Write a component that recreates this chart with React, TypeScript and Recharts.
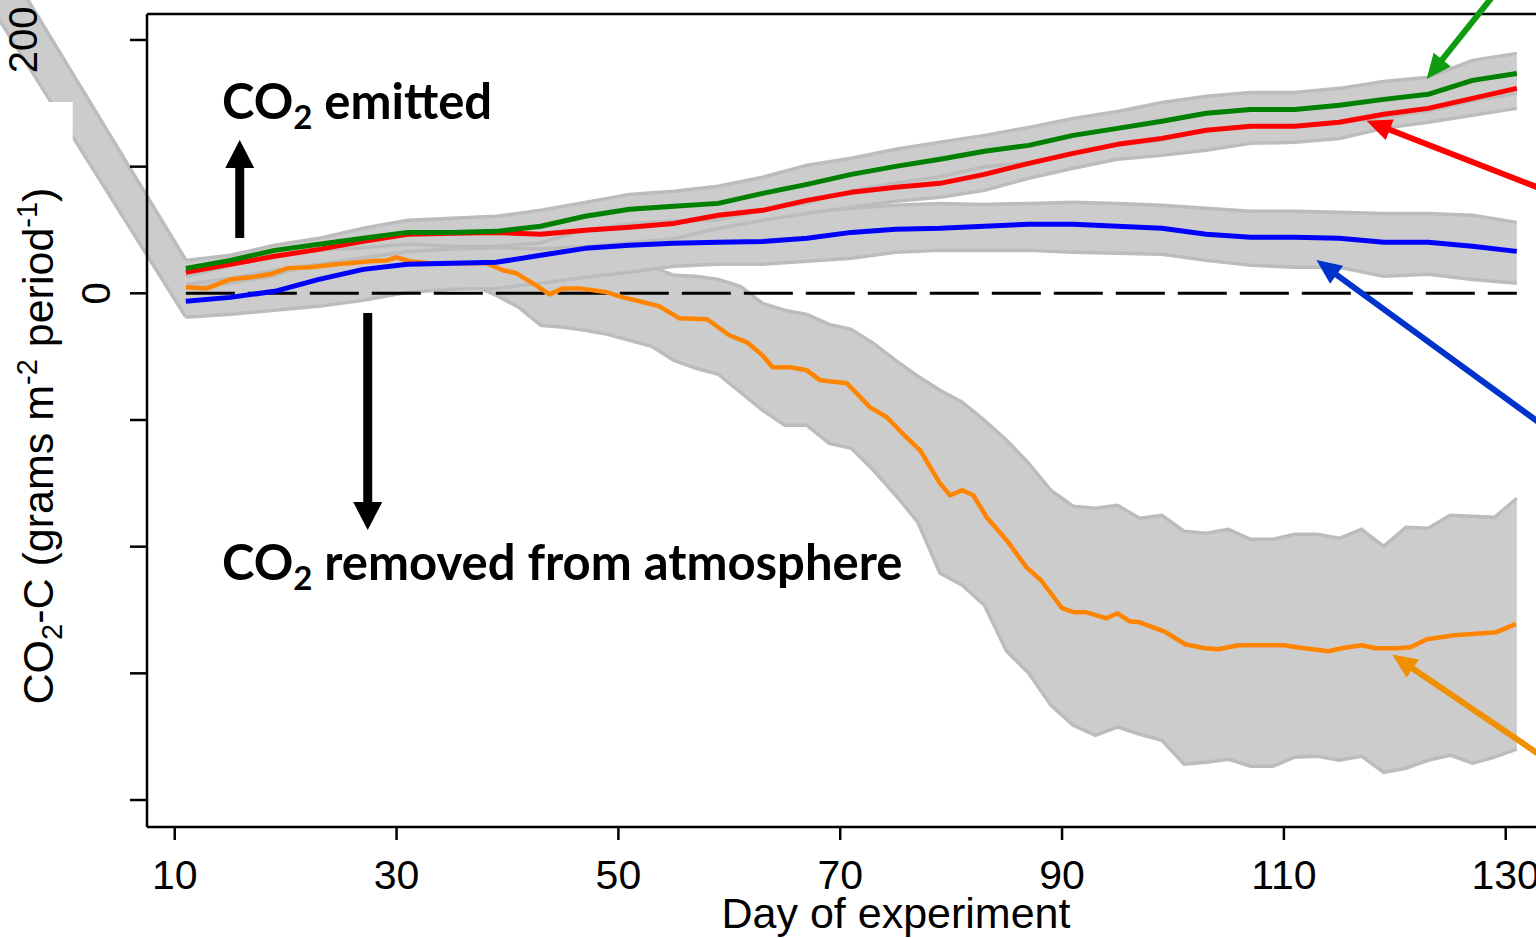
import React from 'react';
import { ComposedChart, Line, Area, XAxis, YAxis, ReferenceLine, ReferenceArea } from 'recharts';

// ---------- data ----------
const daysA = [11, 15, 19, 23, 27, 31, 35, 39, 43, 47, 51, 55, 59, 63, 67, 71, 75, 79, 83, 87, 91, 95, 99, 103, 107, 111, 115, 119, 123, 127, 131];

const green = [19.7, 26.0, 33.9, 38.7, 43.4, 48.1, 48.1, 48.9, 52.9, 60.8, 66.3, 68.7, 71.0, 78.9, 86.0, 93.9, 100.2, 105.8, 112.1, 116.8, 124.7, 130.2, 135.8, 142.1, 145.2, 145.2, 148.4, 153.1, 157.1, 168.1, 173.6];
const greenHi = [26.0, 30.0, 37.9, 43.4, 51.3, 57.6, 59.2, 60.8, 65.5, 71.8, 78.1, 80.5, 84.5, 91.6, 101.1, 106.6, 113.7, 119.2, 124.7, 131.0, 138.1, 143.6, 150.7, 155.5, 158.6, 158.6, 161.8, 167.3, 170.5, 183.9, 189.4];
const greenLo = [13, 22, 30, 34, 36, 39, 37, 37, 40, 50, 55, 57, 58, 66, 71, 81, 87, 92, 100, 103, 111, 117, 121, 129, 132, 132, 135, 139, 144, 152, 158];

const red = [16.6, 22.9, 29.2, 34.7, 41.0, 46.6, 47.4, 48.1, 46.6, 49.7, 52.1, 55.2, 61.6, 65.5, 73.4, 79.7, 83.7, 86.8, 93.9, 102.6, 110.5, 117.6, 122.3, 128.7, 131.8, 131.8, 135.0, 141.3, 146.0, 153.9, 161.8];
const redHi = [24, 29, 36, 42, 49, 55, 57, 58, 57, 61, 64, 68, 74, 78, 87, 93, 97, 100, 108, 116, 124, 131, 136, 143, 146, 146, 149, 155, 160, 168, 176];
const redLo = [7, 12, 18, 23, 28, 33, 35, 36, 35, 37, 40, 43, 51.3, 57.6, 63.1, 67.9, 72.6, 75.8, 81.3, 90.8, 98.7, 105.8, 108.9, 112.9, 118.4, 119.2, 122.3, 130.2, 135.0, 140.5, 146.0];

const blue = [-6.3, -3.2, 1.6, 11.0, 18.9, 22.9, 23.7, 24.5, 30.0, 35.5, 37.9, 39.5, 40.3, 41.0, 43.4, 48.1, 50.5, 51.3, 52.9, 54.5, 54.5, 52.9, 51.3, 46.6, 44.2, 44.2, 43.4, 40.3, 40.3, 37.1, 33.1];
const blueHi = [4, 8, 14, 25, 33, 38, 40, 41, 47, 54, 58, 60, 61, 62, 64, 67.1, 69.5, 71.0, 70.2, 71.0, 71.8, 71.0, 69.5, 67.1, 64.7, 64.7, 63.9, 63.1, 63.1, 61.6, 56.0];
const blueLo = [-18.9, -16.6, -13.4, -10.3, -5.5, 0.8, 3.2, 3.9, 7.9, 12.6, 16.6, 21.3, 22.9, 22.9, 25.3, 27.6, 32.4, 33.9, 33.9, 33.9, 32.4, 31.6, 30.8, 26.0, 22.1, 20.5, 20.5, 13.4, 15.0, 11.0, 7.9];

const orangeDays = [11.0, 12.9, 15.0, 16.8, 18.6, 20.1, 22.2, 24.6, 27.6, 29.1, 30.0, 31.2, 33.0, 38.1, 39.6, 40.8, 42.3, 43.8, 45.0, 46.5, 49.0, 50.4, 51.9, 53.7, 55.5, 58.0, 60.0, 61.6, 63.0, 63.9, 65.5, 67.0, 68.2, 70.6, 72.7, 74.2, 75.6, 77.2, 79.0, 79.9, 81.0, 82.0, 83.2, 85.0, 86.8, 88.1, 90.0, 91.1, 92.2, 94.0, 95.0, 96.1, 97.0, 99.2, 101.1, 102.9, 104.1, 105.9, 110.0, 111.2, 114.0, 115.2, 117.0, 118.3, 120.2, 121.4, 122.9, 125.4, 129.1, 130.9];
const orange = [4.7, 3.9, 11.0, 12.6, 15.0, 19.7, 20.5, 22.9, 25.3, 26.0, 28.4, 25.3, 23.7, 23.7, 18.2, 15.8, 7.9, -0.8, 3.9, 3.9, 0.8, -3.2, -6.3, -10.3, -19.7, -20.5, -33.1, -38.7, -49.0, -58.4, -58.4, -60.8, -68.7, -71.0, -90.0, -97.8, -110.5, -123.9, -150.0, -159.4, -155.5, -159.4, -176.8, -194.9, -216.3, -226.5, -248.6, -251.8, -251.8, -256.5, -252.6, -258.9, -259.7, -266.8, -277.0, -280.2, -281.0, -277.8, -277.8, -279.4, -282.6, -280.2, -277.8, -280.2, -280.2, -279.4, -273.1, -270.0, -267.6, -261.2];

const orangeBandDays = [11, 13, 15, 17, 19, 21, 23, 25, 27, 29, 31, 33, 35, 37, 39, 41, 43, 45, 47, 49, 51, 53, 55, 57, 59, 61, 63, 65, 67, 69, 71, 73, 75, 77, 79, 81, 83, 85, 87, 89, 91, 93, 95, 97, 99, 101, 103, 105, 107, 109, 111, 113, 115, 117, 119, 121, 123, 125, 127, 129, 131];
const orangeHi = [16, 16, 23, 26, 29, 33, 34, 36, 38, 40, 39, 37, 37, 36, 33, 30, 26, 26, 27, 25, 23, 21, 14.2, 13.4, 11.0, 5.5, -7.9, -13.4, -16.6, -24.5, -28.4, -39.5, -52.9, -65.5, -76.6, -86.0, -100.2, -116.0, -134.2, -155.5, -168.1, -169.7, -167.3, -177.6, -175.2, -187.8, -189.4, -186.3, -194.2, -194.2, -190.2, -190.2, -193.4, -186.3, -199.7, -184.7, -185.5, -175.2, -176.0, -176.8, -161.8];
const orangeLo = [-8, -9, -3, 0, 2, 6, 7, 9, 11, 12, 12, 10, 8, 6, -1.6, -11.0, -25.3, -26.8, -29.2, -32.4, -37.1, -41.8, -52.9, -59.2, -63.9, -78.1, -92.3, -104.2, -104.2, -118.4, -122.3, -139.7, -159.4, -180.7, -221.0, -230.5, -246.3, -282.6, -299.9, -325.2, -341.0, -348.9, -342.5, -348.1, -352.8, -371.7, -370.2, -367.8, -373.3, -373.3, -366.2, -365.4, -368.6, -365.4, -378.1, -374.9, -368.6, -364.6, -371.0, -366.2, -359.9];

// band leading in from an earlier (off-axis) point to day 11
const leadInDays = [-8, 11];
const leadInValues = [273.4, 3.8];
// blank patch interrupting the lead-in band (day range, value range)
const leadInGapDays = [-1.54, 0.8];
const leadInGapValues = [120.2, 151.0];

const xTicks = [10, 30, 50, 70, 90, 110, 130];
const yTicks = [200, 100, 0, -100, -200, -300, -400];
const shownYLabels = [200, 0];

// annotation arrows (tail -> tip) in data units
const arrowTails = [[15.86, 43.7], [27.4, -15.6], [132.88, 278.9], [138.47, 64.5], [138.47, -136.9], [138.47, -396.5]];
const arrowTips = [[15.86, 121.0], [27.4, -186.9], [122.87, 169.1], [117.44, 136.3], [112.93, 26.3], [119.76, -285.1]];

// ---------- styling ----------
const FONT = '"Liberation Sans", Arial, Helvetica, sans-serif';
const ANN_FONT = 'Lato, "Open Sans", sans-serif';
const X_DOMAIN: [number, number] = [7.5, 138.5];
const Y_DOMAIN: [number, number] = [-421.3, 220.5];
const BAND_FILL = '#cccccc';
const BAND_EDGE = '#bcbcbc';
const C_GREEN = '#008000';
const C_RED = '#ff0000';
const C_BLUE = '#0000ff';
const C_ORANGE = '#ff8400';
const arrowStyles = [
  { color: '#000000', shaft: 9, head: 28, half: 14.5 },
  { color: '#000000', shaft: 9, head: 28, half: 14.5 },
  { color: '#109c10', shaft: 6, head: 25, half: 11 },
  { color: '#ff0000', shaft: 6, head: 25, half: 11 },
  { color: '#0033cc', shaft: 6, head: 25, half: 11 },
  { color: '#ee9000', shaft: 6, head: 25, half: 11 },
];

const lineData = (days: number[], vals: number[]) => days.map((d, i) => ({ day: d, v: vals[i] }));
const bandData = (days: number[], lo: number[], hi: number[]) => days.map((d, i) => ({ day: d, r: [lo[i], hi[i]] }));

const arrowShape = (color: string, shaft: number, headLen: number, half: number) => (p: any) => {
  const x1 = Number(p.x1), y1 = Number(p.y1), x2 = Number(p.x2), y2 = Number(p.y2);
  const dx = x2 - x1, dy = y2 - y1;
  const len = Math.hypot(dx, dy) || 1;
  const ux = dx / len, uy = dy / len;
  const bx = x2 - ux * headLen, by = y2 - uy * headLen;
  const px = -uy, py = ux;
  return (
    <g>
      <line x1={x1} y1={y1} x2={bx + ux * 2} y2={by + uy * 2} stroke={color} strokeWidth={shaft} />
      <polygon
        points={`${x2},${y2} ${bx + px * half},${by + py * half} ${bx - px * half},${by - py * half}`}
        fill={color}
      />
    </g>
  );
};

const leadInShape = (p: any) => {
  const x1 = Number(p.x1), y1 = Number(p.y1), x2 = Number(p.x2), y2 = Number(p.y2);
  const hl = 34, hr = 28.5;
  return (
    <g>
      <polygon points={`${x1},${y1 - hl} ${x2},${y2 - hr} ${x2},${y2 + hr} ${x1},${y1 + hl}`} fill={BAND_FILL} />
      <polyline points={`${x1},${y1 - hl} ${x2},${y2 - hr}`} fill="none" stroke={BAND_EDGE} strokeWidth={3.5} />
      <polyline points={`${x1},${y1 + hl} ${x2},${y2 + hr}`} fill="none" stroke={BAND_EDGE} strokeWidth={3.5} />
    </g>
  );
};

const YTick = (props: any) => {
  const { x, y, payload } = props;
  const v = payload?.value;
  if (!shownYLabels.includes(v)) return <g />;
  const bx = v === 0 ? x : 37;
  return (
    <text x={bx} y={y} transform={`rotate(-90 ${bx} ${y})`} textAnchor="middle" fontSize={40} fontFamily={FONT} fill="#000">
      {v}
    </text>
  );
};

export default function App() {
  return (
    <div style={{ position: 'absolute', left: 0, top: 0, width: 1536, height: 938, overflow: 'hidden', background: '#fff' }}>
      <ComposedChart width={1600} height={938} margin={{ top: 14, right: 0, bottom: 0, left: 0 }}>
        <XAxis
          dataKey="day"
          type="number"
          domain={X_DOMAIN}
          ticks={xTicks}
          interval={0}
          height={111}
          tickSize={13}
          tickMargin={20}
          axisLine={{ stroke: '#000', strokeWidth: 2.5 }}
          tickLine={{ stroke: '#000', strokeWidth: 2.5 }}
          tick={{ fontSize: 41, fill: '#000', fontFamily: FONT }}
        />
        <YAxis
          type="number"
          domain={Y_DOMAIN}
          ticks={yTicks}
          interval={0}
          width={147}
          tickSize={17}
          tickMargin={20}
          axisLine={{ stroke: '#000', strokeWidth: 2.5 }}
          tickLine={{ stroke: '#000', strokeWidth: 2.5 }}
          tick={<YTick />}
        />

        <ReferenceLine
          segment={[{ x: leadInDays[0], y: leadInValues[0] }, { x: leadInDays[1], y: leadInValues[1] }]}
          ifOverflow="visible"
          shape={leadInShape}
          zIndex={50}
        />
        <ReferenceArea
          x1={leadInGapDays[0]}
          x2={leadInGapDays[1]}
          y1={leadInGapValues[0]}
          y2={leadInGapValues[1]}
          ifOverflow="visible"
          fill="#ffffff"
          fillOpacity={1}
          stroke="none"
          zIndex={60}
        />

        <Area data={bandData(orangeBandDays, orangeLo, orangeHi)} dataKey="r" type="linear" fill={BAND_FILL} fillOpacity={1} stroke={BAND_EDGE} strokeWidth={3.5} dot={false} activeDot={false} isAnimationActive={false} />
        <Area data={bandData(daysA, blueLo, blueHi)} dataKey="r" type="linear" fill={BAND_FILL} fillOpacity={1} stroke={BAND_EDGE} strokeWidth={3.5} dot={false} activeDot={false} isAnimationActive={false} />
        <Area data={bandData(daysA, redLo, redHi)} dataKey="r" type="linear" fill={BAND_FILL} fillOpacity={1} stroke={BAND_EDGE} strokeWidth={3.5} dot={false} activeDot={false} isAnimationActive={false} />
        <Area data={bandData(daysA, greenLo, greenHi)} dataKey="r" type="linear" fill={BAND_FILL} fillOpacity={1} stroke={BAND_EDGE} strokeWidth={3.5} dot={false} activeDot={false} isAnimationActive={false} />

        <ReferenceLine
          segment={[{ x: 11, y: 0 }, { x: 131, y: 0 }]}
          stroke="#000"
          strokeWidth={3}
          strokeDasharray="49 13"
          ifOverflow="visible"
          zIndex={300}
        />
        <ReferenceLine
          segment={[{ x: X_DOMAIN[0], y: Y_DOMAIN[1] }, { x: X_DOMAIN[1], y: Y_DOMAIN[1] }]}
          stroke="#000"
          strokeWidth={2.5}
          ifOverflow="visible"
          zIndex={300}
        />

        <Line data={lineData(orangeDays, orange)} dataKey="v" type="linear" stroke={C_ORANGE} strokeWidth={4.5} strokeLinejoin="round" dot={false} activeDot={false} isAnimationActive={false} />
        <Line data={lineData(daysA, blue)} dataKey="v" type="linear" stroke={C_BLUE} strokeWidth={5} strokeLinejoin="round" dot={false} activeDot={false} isAnimationActive={false} />
        <Line data={lineData(daysA, red)} dataKey="v" type="linear" stroke={C_RED} strokeWidth={5} strokeLinejoin="round" dot={false} activeDot={false} isAnimationActive={false} />
        <Line data={lineData(daysA, green)} dataKey="v" type="linear" stroke={C_GREEN} strokeWidth={5} strokeLinejoin="round" dot={false} activeDot={false} isAnimationActive={false} />

        {arrowTails.map((t, i) => (
          <ReferenceLine
            key={`arr${i}`}
            segment={[{ x: t[0], y: t[1] }, { x: arrowTips[i][0], y: arrowTips[i][1] }]}
            ifOverflow="visible"
            zIndex={700}
            shape={arrowShape(arrowStyles[i].color, arrowStyles[i].shaft, arrowStyles[i].head, arrowStyles[i].half)}
          />
        ))}

        <text x={222} y={119} fontFamily={ANN_FONT} fontWeight={700} fontSize={49} fill="#000">
          CO<tspan fontSize={33} dy={10}>2</tspan><tspan dy={-10}> emitted</tspan>
        </text>
        <text x={222} y={580} fontFamily={ANN_FONT} fontWeight={700} fontSize={49} fill="#000">
          CO<tspan fontSize={33} dy={10}>2</tspan><tspan dy={-10}> removed from atmosphere</tspan>
        </text>

        <text transform="translate(53 446) rotate(-90)" textAnchor="middle" fontSize={43} fontFamily={FONT} fill="#000">
          CO<tspan fontSize={29} dy={9}>2</tspan><tspan dy={-9}>-C (grams m</tspan><tspan fontSize={29} dy={-16}>-2</tspan><tspan dy={16}> period</tspan><tspan fontSize={29} dy={-16}>-1</tspan><tspan dy={16}>)</tspan>
        </text>

        <text x={896} y={928} textAnchor="middle" fontSize={43} fontFamily={FONT} fill="#000">
          Day of experiment
        </text>
      </ComposedChart>
    </div>
  );
}
